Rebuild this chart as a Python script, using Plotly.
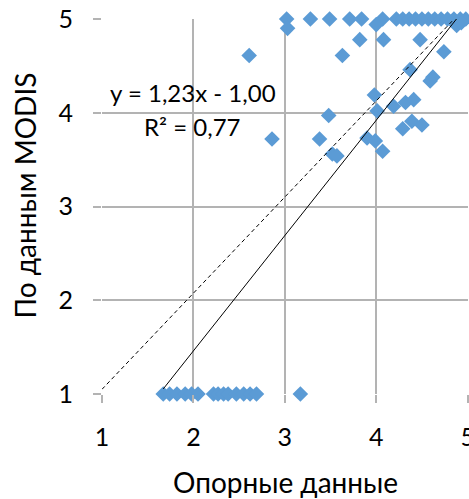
import plotly.graph_objects as go

# Reference (x) vs MODIS (y) values
ref_x = [
    # y = 5 row
    3.02, 3.28, 3.49, 3.71, 3.84, 4.07, 4.22, 4.29, 4.36, 4.43, 4.50, 4.57, 4.64,
    4.71, 4.78, 4.85, 4.92, 4.98,
    # near top
    4.00, 4.88, 4.93, 3.03,
    # middle
    2.61, 3.82, 4.08, 3.63, 4.48, 4.74, 4.37, 4.62, 4.59, 3.98, 4.32, 4.41, 4.19,
    4.01, 3.48, 2.86, 3.38, 3.90, 3.99, 4.39, 4.50, 4.29, 4.07, 3.52, 3.57,
    # y = 1 row
    1.67, 1.74, 1.82, 1.91, 1.98, 2.05, 2.22, 2.27, 2.33, 2.38, 2.47, 2.55, 2.62,
    2.69, 3.17,
]
modis_y = [
    5.00, 5.00, 5.00, 5.00, 5.00, 5.00, 5.00, 5.00, 5.00, 5.00, 5.00, 5.00, 5.00,
    5.00, 5.00, 5.00, 5.00, 5.00,
    4.94, 4.93, 4.96, 4.90,
    4.61, 4.78, 4.78, 4.61, 4.78, 4.65, 4.46, 4.38, 4.34, 4.19, 4.11, 4.14, 4.07,
    4.02, 3.97, 3.72, 3.72, 3.73, 3.70, 3.91, 3.87, 3.83, 3.59, 3.56, 3.54,
    1.00, 1.00, 1.00, 1.00, 1.00, 1.00, 1.00, 1.00, 1.00, 1.00, 1.00, 1.00, 1.00,
    1.00, 1.00,
]

# Linear trend y = 1.23x - 1.00
trend_slope = 1.23
trend_intercept = -1.00

# Dashed reference line end points
ref_line_x = [1.00, 4.95]
ref_line_y = [1.05, 5.10]

tick_vals = [1, 2, 3, 4, 5]
tick_text = ["1", "2", "3", "4", "5"]

x_title = "Опорные данные"
y_title = "По данным MODIS"
eq_text = "y = 1,23x - 1,00"
r2_text = "R² = 0,77"

FONT = "Lato"
GRID = "#b3b3b3"

tx = [min(ref_x), max(ref_x)]
ty = [trend_slope * v + trend_intercept for v in tx]

fig = go.Figure()
fig.add_trace(go.Scatter(
    x=ref_x, y=modis_y, mode="markers",
    marker=dict(symbol="diamond", size=12, color="#5B9BD5", line=dict(width=0)),
    cliponaxis=False, showlegend=False,
))
fig.add_trace(go.Scatter(
    x=ref_line_x, y=ref_line_y, mode="lines",
    line=dict(color="black", width=1, dash="4px,3px"),
    cliponaxis=False, showlegend=False,
))
fig.add_trace(go.Scatter(
    x=tx, y=ty, mode="lines",
    line=dict(color="black", width=1),
    cliponaxis=False, showlegend=False,
))

axis_common = dict(
    tickvals=tick_vals, ticktext=tick_text,
    showgrid=True, gridcolor=GRID, gridwidth=1.5,
    ticks="outside", ticklen=8, tickcolor=GRID, tickwidth=1.5,
    zeroline=False, showline=False,
    tickfont=dict(family=FONT, size=25, color="black"),
    ticklabeloverflow="allow",
    automargin=False,
    fixedrange=True,
)
fig.update_xaxes(**axis_common, range=[1, 5.004], ticklabelstandoff=13)
fig.update_yaxes(**axis_common, range=[1, 5], ticklabelstandoff=15)

fig.add_annotation(x=2.0, y=4.22, xref="x", yref="y", text=eq_text, showarrow=False,
                   font=dict(family=FONT, size=24, color="black"))
fig.add_annotation(x=1.98, y=3.85, xref="x", yref="y", text=r2_text, showarrow=False,
                   font=dict(family=FONT, size=24, color="black"))
fig.add_annotation(x=0.5, y=-0.235, xref="paper", yref="paper", text=x_title, showarrow=False,
                   font=dict(family=FONT, size=28, color="black"), yanchor="middle")
fig.add_annotation(x=-0.21, y=0.53, xref="paper", yref="paper", text=y_title, showarrow=False,
                   textangle=-90, font=dict(family=FONT, size=28, color="black"), xanchor="center")

fig.update_layout(
    width=469, height=499,
    margin=dict(l=102, r=1, t=19, b=105, pad=0, autoexpand=False),
    paper_bgcolor="white", plot_bgcolor="white",
    font=dict(family=FONT, color="black"),
)

fig.write_html("out.html", config={"displayModeBar": False})
